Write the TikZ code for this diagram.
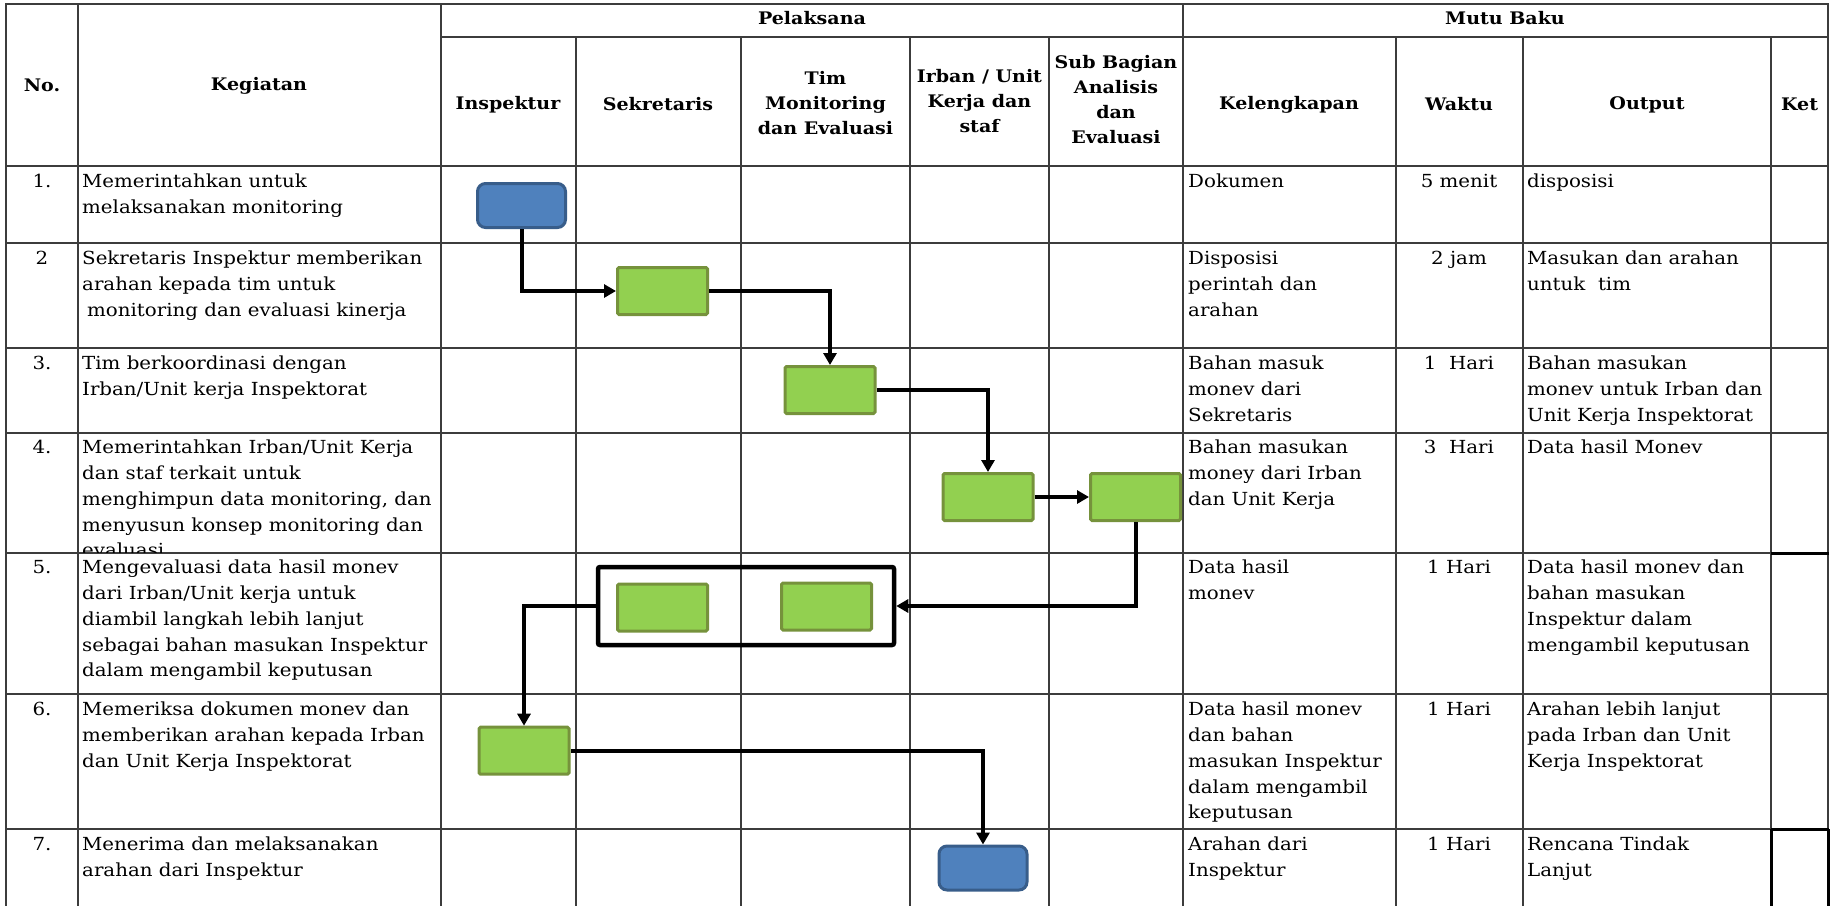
\documentclass[tikz,border=0pt]{standalone}
\usepackage{fontspec}
\setmainfont{DejaVu Serif}[FakeStretch=1.1]
\usetikzlibrary{arrows.meta}
\definecolor{gfill}{HTML}{92D050}
\definecolor{gline}{HTML}{76923C}
\definecolor{bfill}{HTML}{4F81BD}
\definecolor{bline}{HTML}{385D8A}
\definecolor{gridc}{HTML}{3C3C3C}
\tikzset{
 gridline/.style={draw=gridc, line width=2pt},
 thickline/.style={draw=black, line width=3pt},
 hdr/.style={font=\fontsize{17.3}{25}\selectfont\bfseries, align=center, inner sep=0pt},
 body/.style={font=\fontsize{18}{25.8}\selectfont, align=left, inner sep=0pt, anchor=north west},
 numtxt/.style={font=\fontsize{18}{25.8}\selectfont, inner sep=0pt, anchor=north},
 gbox/.style={draw=gline, fill=gfill, line width=3pt, minimum width=90pt, minimum height=47pt, rounded corners=1.5pt, inner sep=0pt},
 bbox/.style={draw=bline, fill=bfill, line width=3pt, minimum width=88pt, minimum height=44pt, rounded corners=8pt, inner sep=0pt},
 grpbox/.style={draw=black, line width=4.5pt, minimum width=296pt, minimum height=78pt, rounded corners=2pt, inner sep=0pt},
 flow/.style={draw=black, line width=4pt, -{Triangle[length=12pt,width=13pt]}},
}
\begin{document}
\begin{tikzpicture}[x=1pt,y=-1pt]
\useasboundingbox (0,0) rectangle (1834,906);
% ---------- grid ----------
\foreach \xx in {6,77.5,441,1183,1828} \draw[gridline] (\xx,4) -- (\xx,906);
\foreach \xx in {575.5,741,910,1049,1395.5,1522.5,1771} \draw[gridline] (\xx,37) -- (\xx,906);
\draw[gridline] (5,4) -- (1829,4);
\draw[gridline] (441,37) -- (1829,37);
\foreach \yy in {166,243,348,433,553,694,829} \draw[gridline] (5,\yy) -- (1829,\yy);
\draw[thickline] (1771,553) -- (1829,553);
\draw[thickline] (1771,829) -- (1829,829);
\draw[thickline] (1771,829) -- (1771,906);
\draw[thickline] (1828,829) -- (1828,906);
% ---------- headers ----------
\node[hdr] (hno) at (42,85.5) {No.};
\node[hdr] (hkeg) at (259,85.5) {Kegiatan};
\node[hdr] (hpel) at (812,18) {Pelaksana};
\node[hdr] (hmutu) at (1505,18) {Mutu Baku};
\node[hdr] (hins) at (508,104.5) {Inspektur};
\node[hdr] (hsek) at (658,104.5) {Sekretaris};
\node[hdr] (htim) at (825.5,103) {Tim\\Monitoring\\dan Evaluasi};
\node[hdr] (hirb) at (979.5,101) {Irban / Unit\\Kerja dan\\staf};
\node[hdr] (hsub) at (1116,100) {Sub Bagian\\Analisis\\dan\\Evaluasi};
\node[hdr] (hkel) at (1289,104.5) {Kelengkapan};
\node[hdr] (hwak) at (1459,104.5) {Waktu};
\node[hdr] (hout) at (1647,104.5) {Output};
\node[hdr] (hket) at (1799.5,104.5) {Ket};
% ---------- row texts ----------
% row 1 (top 166)
\node[numtxt] (n1) at (42,169.5) {\strut 1.};
\node[body] (k1) at (82,169.5) {\strut Memerintahkan untuk\\melaksanakan monitoring};
\node[body] (l1) at (1188,169.5) {\strut Dokumen};
\node[numtxt] (w1) at (1459,169.5) {\strut 5 menit};
\node[body] (o1) at (1527,169.5) {\strut disposisi};
% row 2 (top 243)
\node[numtxt] (n2) at (42,246.5) {\strut 2};
\node[body] (k2) at (82,246.5) {\strut Sekretaris Inspektur memberikan\\arahan kepada tim untuk\\\hspace*{5pt}monitoring dan evaluasi kinerja};
\node[body] (l2) at (1188,246.5) {\strut Disposisi\\perintah dan\\arahan};
\node[numtxt] (w2) at (1459,246.5) {\strut 2 jam};
\node[body] (o2) at (1527,246.5) {\strut Masukan dan arahan\\untuk\ \ tim};
% row 3 (top 348)
\node[numtxt] (n3) at (42,351.5) {\strut 3.};
\node[body] (k3) at (82,351.5) {\strut Tim berkoordinasi dengan\\Irban/Unit kerja Inspektorat};
\node[body] (l3) at (1188,351.5) {\strut Bahan masuk\\monev dari\\Sekretaris};
\node[numtxt] (w3) at (1459,351.5) {\strut 1\ \ Hari};
\node[body] (o3) at (1527,351.5) {\strut Bahan masukan\\monev untuk Irban dan\\Unit Kerja Inspektorat};
% row 4 (top 433)
\node[numtxt] (n4) at (42,435.5) {\strut 4.};
\begin{scope}
\clip (78,434) rectangle (440,552);
\node[body] (k4) at (82,435.5) {\strut Memerintahkan Irban/Unit Kerja\\dan staf terkait untuk\\menghimpun data monitoring, dan\\menyusun konsep monitoring dan\\evaluasi};
\end{scope}
\node[body] (l4) at (1188,435.5) {\strut Bahan masukan\\money dari Irban\\dan Unit Kerja};
\node[numtxt] (w4) at (1459,435.5) {\strut 3\ \ Hari};
\node[body] (o4) at (1527,435.5) {\strut Data hasil Monev};
% row 5 (top 553)
\node[numtxt] (n5) at (42,555.5) {\strut 5.};
\node[body] (k5) at (82,555.5) {\strut Mengevaluasi data hasil monev\\dari Irban/Unit kerja untuk\\diambil langkah lebih lanjut\\sebagai bahan masukan Inspektur\\dalam mengambil keputusan};
\node[body] (l5) at (1188,555.5) {\strut Data hasil\\monev};
\node[numtxt] (w5) at (1459,555.5) {\strut 1 Hari};
\node[body] (o5) at (1527,555.5) {\strut Data hasil monev dan\\bahan masukan\\Inspektur dalam\\mengambil keputusan};
% row 6 (top 694)
\node[numtxt] (n6) at (42,697.5) {\strut 6.};
\node[body] (k6) at (82,697.5) {\strut Memeriksa dokumen monev dan\\memberikan arahan kepada Irban\\dan Unit Kerja Inspektorat};
\node[body] (l6) at (1188,697.5) {\strut Data hasil monev\\dan bahan\\masukan Inspektur\\dalam mengambil\\keputusan};
\node[numtxt] (w6) at (1459,697.5) {\strut 1 Hari};
\node[body] (o6) at (1527,697.5) {\strut Arahan lebih lanjut\\pada Irban dan Unit\\Kerja Inspektorat};
% row 7 (top 829)
\node[numtxt] (n7) at (42,832.5) {\strut 7.};
\node[body] (k7) at (82,832.5) {\strut Menerima dan melaksanakan\\arahan dari Inspektur};
\node[body] (l7) at (1188,832.5) {\strut Arahan dari\\Inspektur};
\node[numtxt] (w7) at (1459,832.5) {\strut 1 Hari};
\node[body] (o7) at (1527,832.5) {\strut Rencana Tindak\\Lanjut};
% ---------- flow shapes ----------
\node[bbox] (b1) at (521.5,205.5) {};
\node[gbox] (b2) at (662.5,291) {};
\node[gbox] (b3) at (830,390) {};
\node[gbox] (b4) at (988,497) {};
\node[gbox] (b5) at (1135.5,497) {};
\node[grpbox] (grp) at (746,606) {};
\node[gbox] (b6a) at (662.5,607.5) {};
\node[gbox] (b6b) at (826.5,606.5) {};
\node[gbox] (b7) at (524,750.7) {};
\node[bbox] (b8) at (983,868) {};
% ---------- connectors ----------
\draw[flow] (b1.south) |- (b2.west);
\draw[flow] (b2.east) -| (b3.north);
\draw[flow] (b3.east) -| (b4.north);
\draw[flow] (b4.east) -- (b5.west);
\draw[flow] (b5.south) |- (grp.east);
\draw[flow] (grp.west) -| (b7.north);
\draw[flow] (b7.east) -| (b8.north);
\end{tikzpicture}
\end{document}
